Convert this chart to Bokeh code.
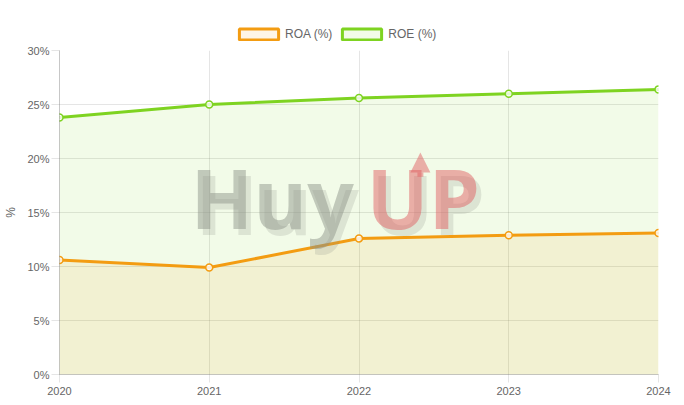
from bokeh.plotting import figure
from bokeh.layouts import column
from bokeh.models import (Legend, LegendItem, Label, Arrow, NormalHead, CustomJSTickFormatter,
                          FixedTicker, Range1d, ColumnDataSource)
from bokeh.embed import file_html
from bokeh.resources import INLINE

years = [2020, 2021, 2022, 2023, 2024]
roa = [10.6, 9.9, 12.6, 12.9, 13.1]
roe = [23.8, 25.0, 25.6, 26.0, 26.4]
y_ticks = [0, 5, 10, 15, 20, 25, 30]
series_names = ["ROA (%)", "ROE (%)"]

ROA_C = "#f39c12"
ROE_C = "#7ed321"
FONT = "Liberation Sans"
TXT = "#666666"
W = 680

# ---------- legend strip ----------
lg = figure(width=W, height=44, output_backend="svg", toolbar_location=None,
            x_range=Range1d(0, 1), y_range=Range1d(0, 1),
            x_axis_type=None, y_axis_type=None, min_border=0)
lg.outline_line_color = None
nan = float("nan")
r_roa = lg.rect(x=[nan], y=[nan], width=1, height=1, fill_color="#fef5e7",
                line_color=ROA_C, line_width=3)
r_roe = lg.rect(x=[nan], y=[nan], width=1, height=1, fill_color="#f2fbe9",
                line_color=ROE_C, line_width=3)
legend = Legend(items=[LegendItem(label=series_names[0], renderers=[r_roa]),
                       LegendItem(label=series_names[1], renderers=[r_roe])],
                orientation="horizontal", location=(175, 3), glyph_width=49, glyph_height=14,
                label_height=12, label_standoff=2, spacing=5, padding=0, margin=0,
                border_line_color=None, background_fill_alpha=0, label_text_font=FONT,
                label_text_font_size="12px", label_text_color=TXT)
lg.add_layout(legend)

# ---------- main chart ----------
p = figure(width=W, height=356, output_backend="svg", toolbar_location=None,
           x_range=Range1d(2020, 2024), y_range=Range1d(0, 30),
           min_border_left=59, min_border_right=22, min_border_top=6, min_border_bottom=26)
p.outline_line_color = None

src = ColumnDataSource(dict(x=years, roa=roa, roe=roe, zero=[0] * len(years)))
p.varea(x='x', y1='zero', y2='roe', source=src, fill_color=ROE_C, fill_alpha=0.1)
p.varea(x='x', y1='zero', y2='roa', source=src, fill_color=ROA_C, fill_alpha=0.1)

p.line(x='x', y='roe', source=src, line_color=ROE_C, line_width=3)
p.line(x='x', y='roa', source=src, line_color=ROA_C, line_width=3)
p.scatter(x='x', y='roe', source=src, size=7, line_color=ROE_C, line_width=1.5,
          fill_color="white", fill_alpha=0.8)
p.scatter(x='x', y='roa', source=src, size=7, line_color=ROA_C, line_width=1.5,
          fill_color="white", fill_alpha=0.8)

for ax in (p.xaxis, p.yaxis):
    ax.major_label_text_font = FONT
    ax.major_label_text_font_size = "11px"
    ax.major_label_text_color = TXT
    ax.minor_tick_line_color = None
    ax.major_tick_in = 0
    ax.major_tick_out = 8
    ax.major_tick_line_color = "#000000"
    ax.major_tick_line_alpha = 0.1
    ax.axis_line_color = "#000000"
    ax.axis_line_alpha = 0.22

p.xaxis.ticker = FixedTicker(ticks=years)
p.xaxis.major_label_standoff = 4
p.yaxis.ticker = FixedTicker(ticks=y_ticks)
p.yaxis.formatter = CustomJSTickFormatter(code="return tick + '%';")
p.yaxis.major_label_standoff = 2
p.yaxis.axis_label = "%"
p.yaxis.axis_label_text_font = FONT
p.yaxis.axis_label_text_font_style = "normal"
p.yaxis.axis_label_text_font_size = "12px"
p.yaxis.axis_label_text_color = TXT
p.yaxis.axis_label_standoff = 6

p.xgrid.ticker = FixedTicker(ticks=years)
p.ygrid.ticker = FixedTicker(ticks=y_ticks)
for g in (p.xgrid, p.ygrid):
    g.grid_line_color = "#000000"
    g.grid_line_alpha = 0.1

# ---------- watermark ----------
WM_FONT = "Open Sans"
WM_SIZE = "82px"
WM_Y = 16.4
for dx, dy, c1, c2, a in [(5, -6, "#8c9288", "#8c9288", 0.22), (0, 0, "#8c9288", "#e0595e", 0.48)]:
    p.add_layout(Label(x=2020.875, y=WM_Y, text="Huy", text_font=WM_FONT, text_font_style="bold",
                       text_font_size=WM_SIZE, text_color=c1, text_alpha=a,
                       text_baseline="alphabetic", x_offset=dx, y_offset=dy))
    p.add_layout(Label(x=2022.05, y=WM_Y, text="UP", text_font=WM_FONT, text_font_style="bold",
                       text_font_size=WM_SIZE, text_color=c2, text_alpha=a,
                       text_baseline="alphabetic", x_offset=dx, y_offset=dy))
p.add_layout(Arrow(x_start=2022.41, y_start=18.3, x_end=2022.41, y_end=20.56,
                   line_color="#e0595e", line_alpha=0.48, line_width=6,
                   end=NormalHead(size=20, fill_color="#e0595e", fill_alpha=0.48, line_alpha=0)))

open("out.html", "w").write(file_html(column(lg, p, spacing=0), INLINE))
